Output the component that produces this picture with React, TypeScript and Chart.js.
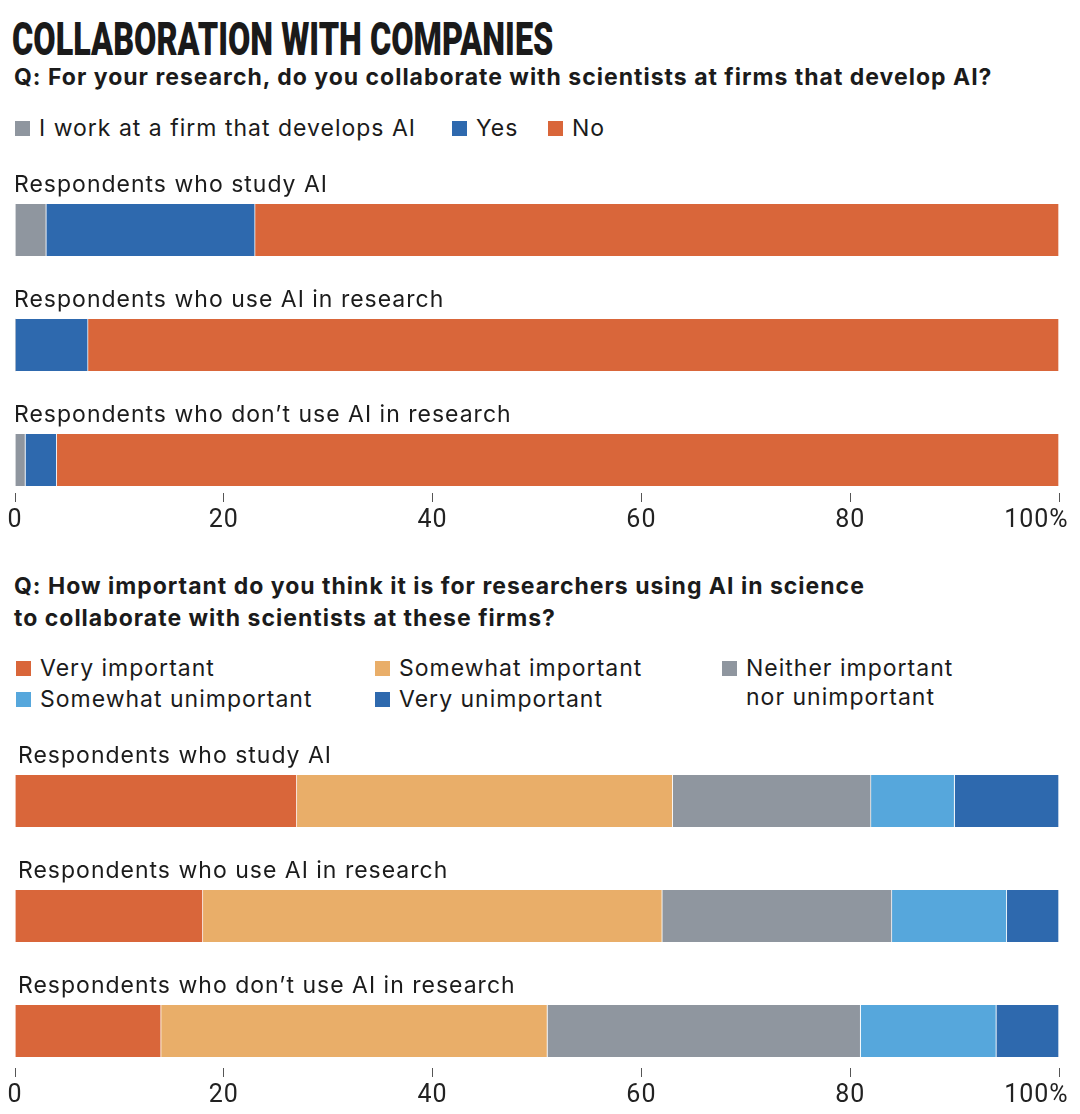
import React, { useEffect, useLayoutEffect, useRef } from 'react';
import { Chart, registerables } from 'chart.js';

Chart.register(...registerables);

// ---------- text ----------
const titleText = 'COLLABORATION WITH COMPANIES';
const question1 = 'Q: For your research, do you collaborate with scientists at firms that develop AI?';
const question2Lines = [
  'Q: How important do you think it is for researchers using AI in science',
  'to collaborate with scientists at these firms?',
];
const groups = [
  'Respondents who study AI',
  'Respondents who use AI in research',
  'Respondents who don\u2019t use AI in research',
];

// ---------- chart 1 data (%) ----------
const collabLabels = ['I work at a firm that develops AI', 'Yes', 'No'];
const collabWorkAtFirm = [3, 0, 1];
const collabYes = [20, 7, 3];
const collabNo = [77, 93, 96];

// ---------- chart 2 data (%) ----------
const impLabels = [
  'Very important',
  'Somewhat important',
  'Neither important nor unimportant',
  'Somewhat unimportant',
  'Very unimportant',
];
const impVery = [27, 18, 14];
const impSomewhat = [36, 44, 37];
const impNeither = [19, 22, 30];
const impSomewhatUn = [8, 11, 13];
const impVeryUn = [10, 5, 6];

const xTicks = [0, 20, 40, 60, 80, 100];

// ---------- styles ----------
const ORANGE = '#D9663A';
const LIGHT_ORANGE = '#E9AE69';
const GRAY = '#8F969F';
const LIGHT_BLUE = '#56A7DC';
const DARK_BLUE = '#2E69AE';
const TEXT = '#1b1b1b';
const BODY_FONT = 'Inter, "Noto Sans", sans-serif';

const collabColors = [GRAY, DARK_BLUE, ORANGE];
const impColors = [ORANGE, LIGHT_ORANGE, GRAY, LIGHT_BLUE, DARK_BLUE];

const groupLabelPlugin = {
  id: 'groupLabels',
  afterDatasetsDraw(chart: any, _args: any, opts: any) {
    const { ctx, chartArea } = chart;
    const yScale = chart.scales.y;
    const labels: string[] = chart.data.labels || [];
    ctx.save();
    ctx.font = `23px ${BODY_FONT}`;
    try {
      (ctx as any).letterSpacing = '1px';
    } catch (e) {
      /* ignore */
    }
    ctx.fillStyle = TEXT;
    ctx.textAlign = 'left';
    ctx.textBaseline = 'alphabetic';
    labels.forEach((lab, i) => {
      const barTop = yScale.getPixelForValue(i) - 26;
      ctx.fillText(lab, chartArea.left + (opts.dx || 0), barTop - 12);
    });
    ctx.restore();
  },
};

function makeConfig(values: number[][], names: string[], colors: string[], yMin: number, yMax: number, dx: number): any {
  return {
    type: 'bar',
    data: {
      labels: groups,
      datasets: values.map((vals, k) => ({
        label: names[k],
        data: vals.map((v, i) => ({ x: v, y: i })),
        backgroundColor: colors[k],
        borderColor: 'rgba(255,255,255,0.75)',
        borderWidth: { left: 0, right: 1, top: 0, bottom: 0 },
        borderSkipped: false,
        barThickness: 52,
      })),
    },
    options: {
      indexAxis: 'y',
      animation: false,
      responsive: false,
      maintainAspectRatio: false,
      events: [],
      layout: { padding: { left: 15, right: 21, top: 0, bottom: 0 } },
      plugins: {
        legend: { display: false },
        tooltip: { enabled: false },
        groupLabels: { dx },
      },
      scales: {
        x: {
          type: 'linear',
          stacked: true,
          min: 0,
          max: 100,
          afterBuildTicks: (scale: any) => {
            scale.ticks = xTicks.map((v) => ({ value: v }));
          },
          afterFit: (scale: any) => {
            scale.height = 44;
            scale.paddingLeft = 0;
            scale.paddingRight = 0;
          },
          ticks: {
            autoSkip: false,
            maxRotation: 0,
            padding: 4,
            color: '#222',
            font: { family: 'Roboto', size: 25 },
            callback: (v: any) => (v === 100 ? '100%\u2007\u2007\u2007' : String(v)),
          },
          grid: {
            drawOnChartArea: false,
            drawTicks: true,
            tickLength: 9,
            color: '#555',
            lineWidth: 1,
          },
          border: { display: false },
        },
        y: {
          type: 'linear',
          stacked: true,
          reverse: true,
          offset: false,
          grace: 0,
          bounds: 'data',
          min: yMin,
          max: yMax,
          display: false,
        },
      },
    },
    plugins: [groupLabelPlugin],
  };
}

function LegendItem({ color, label, left, top, width }: { color: string; label: string; left: number; top: number; width?: number }) {
  return (
    <div style={{ position: 'absolute', left, top, display: 'flex', alignItems: 'flex-start' }}>
      <div style={{ width: 15, height: 15, background: color, marginTop: 7, flex: '0 0 auto' }} />
      <div style={{ marginLeft: 9, width, fontSize: 23, lineHeight: '29px' }}>{label}</div>
    </div>
  );
}

export default function App() {
  const c1 = useRef<HTMLCanvasElement>(null);
  const c2 = useRef<HTMLCanvasElement>(null);
  const titleRef = useRef<HTMLSpanElement>(null);

  useLayoutEffect(() => {
    const el = titleRef.current;
    if (el) {
      const w = el.offsetWidth;
      if (w > 0) el.style.transform = `scaleX(${541 / w})`;
    }
  }, []);

  useEffect(() => {
    const ch1 = new Chart(
      c1.current as HTMLCanvasElement,
      makeConfig([collabWorkAtFirm, collabYes, collabNo], collabLabels, collabColors, -70 / 115, 2 + 33 / 115, -1)
    );
    const ch2 = new Chart(
      c2.current as HTMLCanvasElement,
      makeConfig([impVery, impSomewhat, impNeither, impSomewhatUn, impVeryUn], impLabels, impColors, -71 / 115, 2 + 37 / 115, 3)
    );
    return () => {
      ch1.destroy();
      ch2.destroy();
    };
  }, []);

  return (
    <div
      style={{
        position: 'absolute',
        left: 0,
        top: 0,
        width: 1080,
        height: 1114,
        background: '#ffffff',
        color: TEXT,
        fontFamily: BODY_FONT,
        letterSpacing: '1px',
        overflow: 'hidden',
      }}
    >
      <div style={{ position: 'absolute', left: 12, top: 16, whiteSpace: 'nowrap', letterSpacing: 0 }}>
        <span
          ref={titleRef}
          style={{
            display: 'inline-block',
            fontFamily: 'Roboto, sans-serif',
            fontWeight: 900,
            fontSize: 46,
            lineHeight: '46px',
            color: '#1a1a1a',
            transformOrigin: 'left top',
          }}
        >
          {titleText}
        </span>
      </div>

      <div style={{ position: 'absolute', left: 14, top: 63, fontWeight: 700, fontSize: 23, lineHeight: '28px', whiteSpace: 'nowrap' }}>
        {question1}
      </div>

      {collabLabels.map((lab, k) => (
        <LegendItem key={lab} color={collabColors[k]} label={lab} left={[15, 452, 548][k]} top={114} />
      ))}

      <canvas ref={c1} width={1080} height={377} style={{ position: 'absolute', left: 0, top: 160 }} />

      <div style={{ position: 'absolute', left: 14, top: 570, fontWeight: 700, fontSize: 23, lineHeight: '32px', whiteSpace: 'nowrap' }}>
        {question2Lines.map((l) => (
          <div key={l}>{l}</div>
        ))}
      </div>

      {impLabels.map((lab, k) => (
        <LegendItem
          key={lab}
          color={impColors[k]}
          label={lab}
          left={[16, 375, 722, 16, 375][k]}
          top={k < 3 ? 654 : 685}
          width={k === 2 ? 225 : undefined}
        />
      ))}

      <canvas ref={c2} width={1080} height={382} style={{ position: 'absolute', left: 0, top: 730 }} />
    </div>
  );
}
